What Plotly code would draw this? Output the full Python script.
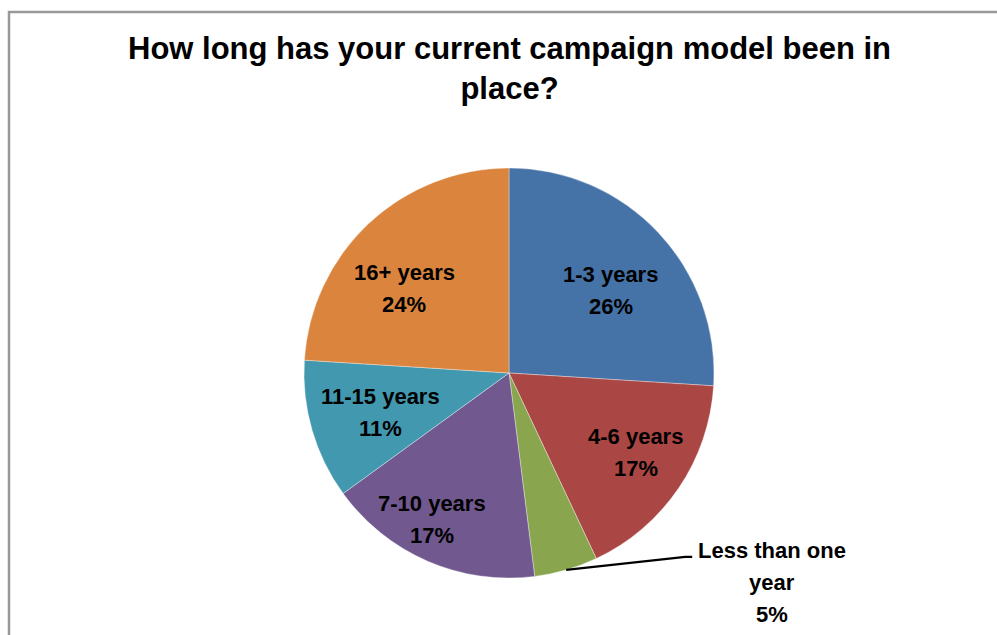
import math
import plotly.graph_objects as go

categories = ["1-3 years", "4-6 years", "Less than one year", "7-10 years", "11-15 years", "16+ years"]
values = [26, 17, 5, 17, 11, 24]
colors = ["#4572A7", "#AA4643", "#89A54E", "#71588F", "#4198AF", "#DB843D"]
title_text = "How long has your current campaign model been in<br>place?"

W, H = 997, 635
cx, cy, R = 509, 373, 205          # pie centre / radius in pixels
label_r = [0.64, 0.73, None, 0.80, 0.66, 0.66]   # label distance as fraction of radius
label_nudge = [(6, 7), (3, -5), (0, 0), (-12, -4), (1, 2), (-12, 14)]  # pixel tweaks
LINE = 32  # label line spacing in px

def px(x):
    return x / W

def py(y):
    return 1 - y / H

fig = go.Figure(go.Pie(
    labels=categories,
    values=values,
    sort=False,
    direction="clockwise",
    rotation=0,
    marker=dict(colors=colors, line=dict(color="rgba(255,255,255,0.6)", width=0.6)),
    textinfo="none",
    hoverinfo="label+percent",
    domain=dict(x=[px(cx - R), px(cx + R)], y=[py(cy + R), py(cy - R)]),
    showlegend=False,
))

annotations = []
shapes = []
font = dict(family="Liberation Sans", size=22, color="black")

def text_block(x, y, lines):
    n = len(lines)
    for i, t in enumerate(lines):
        yy = y + (i - (n - 1) / 2) * LINE
        annotations.append(dict(x=px(x), y=py(yy), xref="paper", yref="paper",
                                xanchor="center", yanchor="middle",
                                text=f"<b>{t}</b>", showarrow=False, font=font))

total = sum(values)
cum = 0
for cat, v, fr, (nx, ny) in zip(categories, values, label_r, label_nudge):
    mid = (cum + v / 2) / total * 2 * math.pi
    cum += v
    pct = f"{round(v / total * 100)}%"
    if fr is not None:
        lx = cx + math.sin(mid) * R * fr + nx
        ly = cy - math.cos(mid) * R * fr + ny
        text_block(lx, ly, [cat, pct])
    else:
        sx = cx + math.sin(mid) * R
        sy = cy - math.cos(mid) * R
        ex, ey = sx + 119, sy - 13
        shapes.append(dict(type="path", xref="paper", yref="paper",
                           path=f"M {px(sx)},{py(sy)} L {px(ex)},{py(ey)} L {px(ex + 7)},{py(ey)}",
                           line=dict(color="black", width=2.2)))
        text_block(ex + 87, ey + 26, ["Less than one", "year", pct])

annotations.append(dict(x=px(509), y=py(69), xref="paper", yref="paper",
                        xanchor="center", yanchor="middle",
                        text=f"<b>{title_text}</b>", showarrow=False,
                        font=dict(family="Liberation Sans", size=31, color="black"),
                        align="center"))

shapes.append(dict(type="rect", xref="paper", yref="paper",
                   x0=px(9), x1=1.02, y0=-0.02, y1=py(12),
                   line=dict(color="#999999", width=2.5)))

fig.update_layout(
    width=W, height=H,
    margin=dict(l=0, r=0, t=0, b=0),
    paper_bgcolor="white",
    plot_bgcolor="white",
    annotations=annotations,
    shapes=shapes,
)

fig.write_html("out.html", config={"displayModeBar": False},
               post_script="document.body.style.margin='0';document.body.style.overflow='hidden';")
